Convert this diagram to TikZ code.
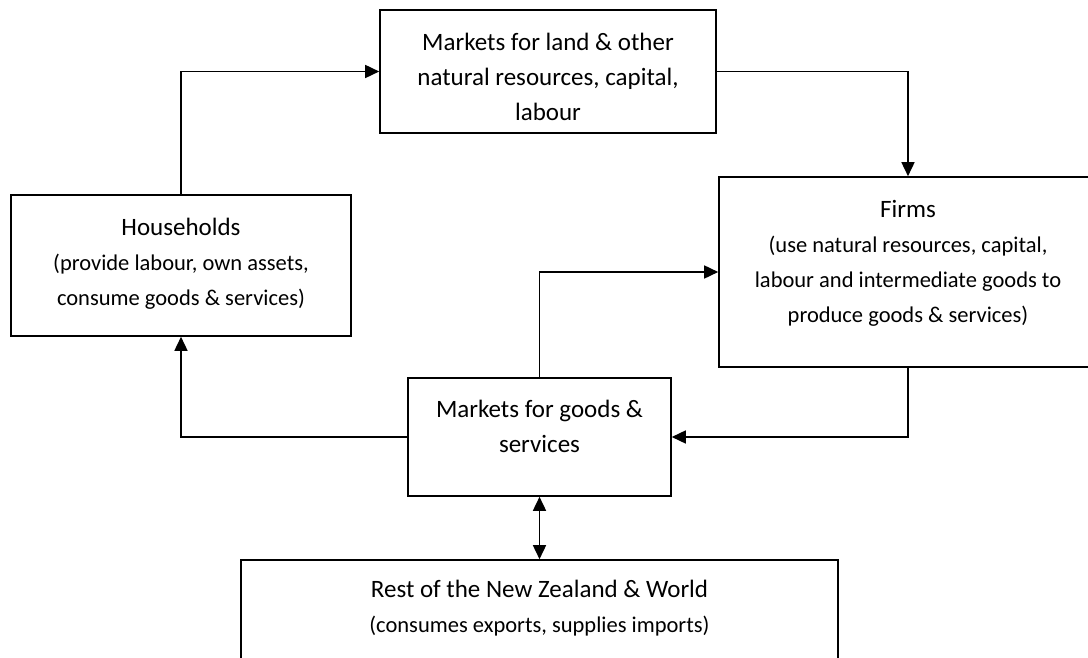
\documentclass[tikz,border=0pt]{standalone}
\usepackage{fontspec}
\setmainfont{Carlito}
\usetikzlibrary{arrows.meta}
\tikzset{
  box/.style={draw=black, line width=1.6pt, rectangle, inner sep=0pt, fill=white},
  txt/.style={align=center, inner sep=0pt, font=\fontsize{25}{35}\selectfont},
  arr/.style={draw=black, line width=1.6pt, -{Triangle[length=14pt,width=13pt]}},
  darr/.style={draw=black, line width=1.6pt, {Triangle[length=14pt,width=13pt]}-{Triangle[length=14pt,width=13pt]}}
}
\newcommand{\subl}[1]{{\fontsize{22.5}{35}\selectfont #1}}
\begin{document}
\begin{tikzpicture}[x=1pt,y=-1pt]
\useasboundingbox (0,0) rectangle (1088,658);
\clip (0,0) rectangle (1088,658);
\fill[white] (0,0) rectangle (1088,658);
% boxes
\node[box, minimum width=336pt, minimum height=123pt] (top) at (548,71.5) {};
\node[box, minimum width=340pt, minimum height=141pt] (hh) at (181,265.5) {};
\node[box, minimum width=378pt, minimum height=190pt] (firms) at (908,272) {};
\node[box, minimum width=263pt, minimum height=118pt] (mk) at (539.5,437) {};
\node[box, minimum width=597pt, minimum height=140pt] (rest) at (539.5,630) {};
% texts
\node[txt] (topt) at (548,77) {Markets for land \& other\\natural resources, capital,\\labour};
\node[txt] (hht) at (181,264) {Households\\\subl{(provide labour, own assets,}\\\subl{consume goods \& services)}};
\node[txt] (firmst) at (908,263) {Firms\\\subl{(use natural resources, capital,}\\\subl{labour and intermediate goods to}\\\subl{produce goods \& services)}};
\node[txt] (mkt) at (539.5,426) {Markets for goods \&\\services};
\node[txt] (restt) at (539.5,608) {Rest of the New Zealand \& World\\\subl{(consumes exports, supplies imports)}};
% connectors
\draw[arr] (hh.north) |- (top.west);
\draw[arr] (top.east) -| (firms.north);
\draw[arr] (firms.south) |- (mk.east);
\draw[arr] (mk.west) -| (hh.south);
\draw[arr] (mk.north) |- (firms.west);
\draw[darr] (mk.south) -- (rest.north);
\end{tikzpicture}
\end{document}
